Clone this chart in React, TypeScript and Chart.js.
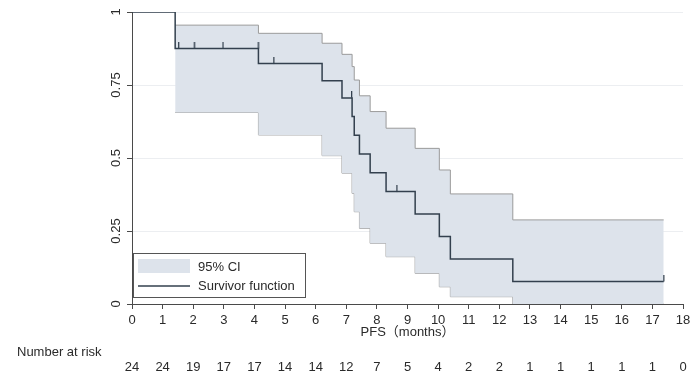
import React, { useEffect, useRef } from "react";
import { Chart, registerables } from "chart.js";

Chart.register(...registerables);

const FONT = '"Liberation Sans", Arial, "Noto Sans CJK SC", sans-serif';

// Kaplan-Meier survivor function (time, survival after step)
const kmTimes = [0, 1.41, 4.13, 6.21, 6.86, 7.19, 7.26, 7.43, 7.78, 8.3, 9.25, 10.04, 10.4, 12.44, 17.37];
const kmSurv = [1, 0.875, 0.8235, 0.7647, 0.7059, 0.6417, 0.5775, 0.5134, 0.4492, 0.385, 0.308, 0.231, 0.154, 0.077, 0.077];

// 95% confidence band
const ciTimes = [1.41, 4.13, 6.21, 6.86, 7.19, 7.26, 7.43, 7.78, 8.3, 9.25, 10.04, 10.4, 12.44, 17.37];
const ciUpper = [0.955, 0.927, 0.893, 0.855, 0.813, 0.767, 0.713, 0.659, 0.602, 0.533, 0.459, 0.377, 0.288, 0.288];
const ciLower = [0.656, 0.579, 0.508, 0.448, 0.379, 0.316, 0.259, 0.208, 0.162, 0.105, 0.059, 0.025, 0, 0];

// censored observations
const censorTimes = [1.52, 2.03, 2.97, 4.12, 4.63, 7.17, 8.65, 17.37];

// number at risk table
const riskTimes = [0, 1, 2, 3, 4, 5, 6, 7, 8, 9, 10, 11, 12, 13, 14, 15, 16, 17, 18];
const riskCounts = [24, 24, 19, 17, 17, 14, 14, 12, 7, 5, 4, 2, 2, 1, 1, 1, 1, 1, 0];

const xTitle = "PFS（months）";
const riskTitle = "Number at risk";
const ciLabel = "95% CI";
const kmLabel = "Survivor function";

const LINE_COLOR = "#33404e";
const BAND_COLOR = "#dde3eb";
const BAND_EDGE = "#9b9b9b";
const TEXT_COLOR = "#2a2a2a";
const AXIS_COLOR = "#4a4a4a";

function survAt(t: number): number {
  let s = kmSurv[0];
  for (let i = 0; i < kmTimes.length; i++) if (kmTimes[i] <= t) s = kmSurv[i];
  return s;
}

function makeCensorMark(): HTMLCanvasElement {
  const c = document.createElement("canvas");
  c.width = 3;
  c.height = 13;
  const g = c.getContext("2d")!;
  g.fillStyle = LINE_COLOR;
  g.fillRect(1, 0, 1.3, 6.5);
  return c;
}

const overlayPlugin = {
  id: "kmOverlay",
  afterDraw(chart: any) {
    const ctx = chart.ctx;
    const xs = chart.scales.x;
    const ys = chart.scales.y;
    const area = chart.chartArea;
    ctx.save();
    ctx.fillStyle = TEXT_COLOR;
    ctx.font = `13px ${FONT}`;

    // rotated y tick labels
    ctx.textAlign = "center";
    ctx.textBaseline = "alphabetic";
    ys.ticks.forEach((t: any) => {
      const py = ys.getPixelForValue(t.value);
      ctx.save();
      ctx.translate(area.left - 12.5, py);
      ctx.rotate(-Math.PI / 2);
      ctx.fillText(String(t.value), 0, 0);
      ctx.restore();
    });

    // x axis title
    ctx.textAlign = "center";
    ctx.textBaseline = "middle";
    ctx.fillText(xTitle, (area.left + area.right) / 2, 332);

    // number at risk
    ctx.textAlign = "left";
    ctx.fillText(riskTitle, 17, 352);
    ctx.textAlign = "center";
    riskTimes.forEach((t, i) => {
      ctx.fillText(String(riskCounts[i]), xs.getPixelForValue(t), 367);
    });

    // legend
    const bx = area.left + 1;
    const by = 253;
    const bw = 172;
    const bh = 44;
    ctx.fillStyle = "#ffffff";
    ctx.fillRect(bx, by, bw, bh);
    ctx.strokeStyle = "#555555";
    ctx.lineWidth = 1;
    ctx.strokeRect(bx + 0.5, by + 0.5, bw, bh);
    const ds = chart.data.datasets;
    ctx.fillStyle = ds[1].backgroundColor;
    ctx.fillRect(bx + 5, by + 6, 52, 14);
    ctx.strokeStyle = ds[0].borderColor;
    ctx.lineWidth = 1.3;
    ctx.beginPath();
    ctx.moveTo(bx + 5, by + 33);
    ctx.lineTo(bx + 57, by + 33);
    ctx.stroke();
    ctx.fillStyle = TEXT_COLOR;
    ctx.textAlign = "left";
    ctx.textBaseline = "middle";
    ctx.fillText(ds[1].label, bx + 65, by + 14);
    ctx.fillText(ds[0].label, bx + 65, by + 33);
    ctx.restore();
  },
};

export default function App() {
  const ref = useRef<HTMLCanvasElement | null>(null);

  useEffect(() => {
    document.body.style.margin = "0";
    const canvas = ref.current!;
    const mark = makeCensorMark();
    const chart = new Chart(canvas, {
      type: "line",
      data: {
        datasets: [
          {
            label: kmLabel,
            data: kmTimes.map((t, i) => ({ x: t, y: kmSurv[i] })),
            stepped: "before",
            borderColor: LINE_COLOR,
            borderWidth: 1.5,
            pointRadius: 0,
            fill: false,
            order: 0,
          },
          {
            label: ciLabel,
            data: ciTimes.map((t, i) => ({ x: t, y: ciUpper[i] })),
            stepped: "before",
            borderColor: BAND_EDGE,
            borderWidth: 1,
            backgroundColor: BAND_COLOR,
            pointRadius: 0,
            fill: "+1",
            order: 2,
          },
          {
            label: "lower",
            data: ciTimes.map((t, i) => ({ x: t, y: ciLower[i] })),
            stepped: "before",
            borderColor: BAND_EDGE,
            borderWidth: 1,
            pointRadius: 0,
            fill: false,
            order: 3,
          },
          {
            label: "censored",
            data: censorTimes.map((t) => ({ x: t, y: survAt(t) })),
            showLine: false,
            pointStyle: mark as any,
            pointRadius: 3,
            order: -1,
          },
        ] as any,
      },
      options: {
        responsive: false,
        animation: false,
        layout: { padding: { top: 12, right: 17, left: 0, bottom: 0 } },
        plugins: {
          legend: { display: false },
          tooltip: { enabled: false },
        },
        scales: {
          x: {
            type: "linear",
            min: 0,
            max: 18,
            ticks: {
              stepSize: 1,
              color: TEXT_COLOR,
              font: { family: FONT, size: 13 },
              padding: 4,
              maxRotation: 0,
              autoSkip: false,
            },
            grid: {
              drawOnChartArea: false,
              drawTicks: true,
              tickLength: 5,
              tickColor: AXIS_COLOR,
            },
            border: { color: AXIS_COLOR, width: 1 },
            afterFit: (s: any) => {
              s.height = 75;
            },
          },
          y: {
            min: 0,
            max: 1,
            ticks: { stepSize: 0.25, display: false },
            grid: {
              color: "#eceef1",
              drawTicks: true,
              tickLength: 5,
              tickColor: AXIS_COLOR,
            },
            border: { color: AXIS_COLOR, width: 1 },
            afterFit: (s: any) => {
              s.width = 132;
            },
          },
        },
      } as any,
      plugins: [overlayPlugin],
    });
    return () => chart.destroy();
  }, []);

  return (
    <div style={{ width: 700, height: 379, background: "#fff" }}>
      <canvas ref={ref} width={700} height={379} style={{ display: "block" }} />
    </div>
  );
}
